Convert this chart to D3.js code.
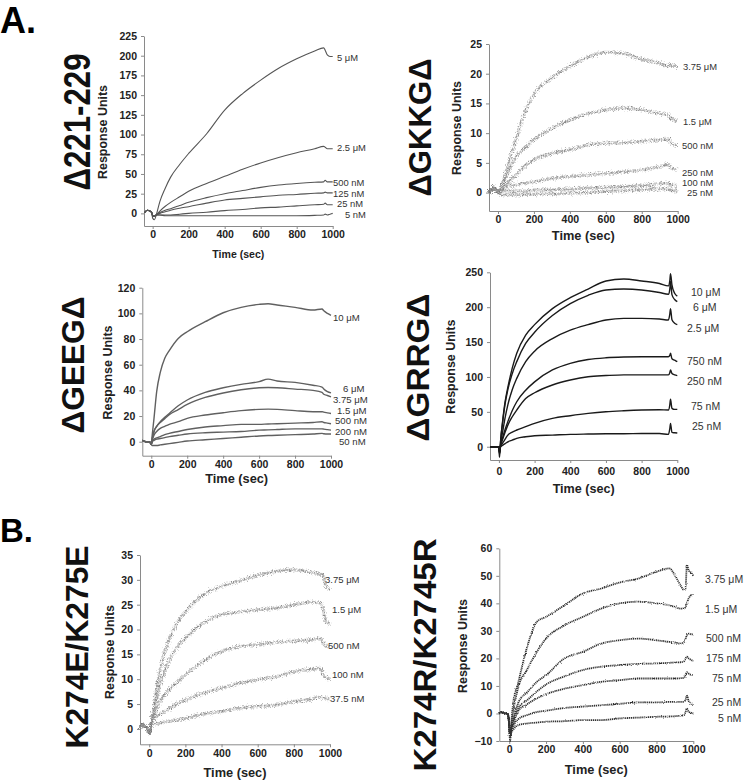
<!DOCTYPE html>
<html><head><meta charset="utf-8">
<script src="https://cdn.jsdelivr.net/npm/d3@7"></script>
<style>body{margin:0;background:#fff} svg{display:block} text{font-family:"Liberation Sans",Arial,Helvetica,sans-serif}</style>
</head><body><svg id="c" width="745" height="780"></svg>
<script>
// ---------- DATA ----------
const xTicks = [0, 200, 400, 600, 800, 1000];

// Panel 1: Δ221-229
const p1Title = "Δ221-229";
const p1YTicks = [0, 25, 50, 75, 100, 125, 150, 175, 200, 225];
const p1Labels = ["5 μM", "2.5 μM", "500 nM", "125 nM", "25 nM", "5 nM"];
const p1Times = [-45,-30,-15,-5,0,10,20,40,70,100,150,200,300,400,500,600,700,800,900,950,958,970,985,1000];
const p1Values = [
  [1,4,3,1,-6,-8,-2,15,32,46,62,76,101,131,152,169,184,196,206,210,207,201,199,199],
  [1,4,3,1,-4,-4,-2,3,9,14,21,28,38,47,56,64,71,77,82,85,84,82,82,82],
  [1,4,3,1,-3,-3,-2,1,4,6,10,14,20,25,29,33,36,38,39.5,40,42,40,40,40],
  [1,4,3,1,-3,-3,-2,0,2,4,6.5,8.5,13,17,19,21,23,24,25.5,26,27,26,26,26],
  [1,4,3,1,-3,-3,-2,-2,-2,-2,-1,0,1.5,3.5,5,7,8,9.5,11,11.5,13,11,11,11],
  [1,4,3,1,-3,-3,-2,-2,-3,-3,-3,-3,-3,-3,-3,-3,-3,-3,-2.5,-2,-1,-2,-1,0]
];

// Panel 2: ΔGKKGΔ
const p2Title = "ΔGKKGΔ";
const p2YTicks = [0, 5, 10, 15, 20, 25];
const p2Labels = ["3.75 μM", "1.5 μM", "500 nM", "250 nM", "100 nM", "25 nM"];
const p2Times = [-50,-40,-25,-10,0,20,50,100,150,200,300,400,500,600,700,800,900,950,960,980,1000];
const p2Values = [
  [0.5,0,1,0.5,0,1,4,9,13.5,16.5,19.3,21.2,22.8,23.6,23.4,22.4,21.8,21.2,21.5,21.3,21.2],
  [0.5,0,1,0.5,0,1,3,6,7.5,8.9,10.8,12.2,13.3,13.9,14.2,13.9,13.3,13,12.5,12.2,12],
  [0.5,0,1,0.5,0,0.5,1.5,3,4.5,5.5,6.6,7.2,8,8.3,8.4,8.6,8.9,9,8.5,8,8],
  [0.5,0,1,0.5,0,0.5,1,1.3,1.6,1.8,2.4,2.7,3,3.2,3.5,3.8,4.4,4.7,4.2,4,4],
  [0.5,0,1,0.5,0,0.3,0.3,0.3,0.3,0.4,0.5,0.6,0.8,0.9,1,1.2,1.5,1.6,1.3,1.2,1.2],
  [0.5,0,1,0.5,0,-0.3,-0.4,-0.4,-0.3,-0.3,-0.2,-0.1,0,0.2,0.3,0.5,0.6,0.6,0.4,0.3,0.3]
];

// Panel 3: ΔGEEGΔ
const p3Title = "ΔGEEGΔ";
const p3YTicks = [0, 20, 40, 60, 80, 100, 120];
const p3Labels = ["10 μM", "6 μM", "3.75 μM", "1.5 μM", "500 nM", "200 nM", "50 nM"];
const p3Times = [-50,-30,-10,0,5,15,30,50,75,100,150,200,300,400,500,600,650,700,800,900,950,960,980,1000];
const p3Values = [
  [1,0,0,-2,5,18,39,54,65,71,80.5,85.7,93.5,100.5,104.7,107,107.5,106.5,104.7,102.6,103.4,102,100,98.5],
  [1,0,0,-2,2,8,12,15.6,19,22,28,32.5,38.4,42,44.7,46.8,48.8,47.3,46.2,44,42.6,41,39,38],
  [1,0,0,-2,2,8,12,15,18,21,25,29,34.5,38,40.5,42,42.2,42,41,40,38.5,37,36,35],
  [1,0,0,-2,1,5,8,10.4,12,13.5,15.6,18.2,20.8,22.6,24.2,25.2,25.4,25.2,24.2,23.4,23.4,23,22.5,22],
  [1,0,0,-2,0,2,3,4,5.5,6.5,8,9.5,11.5,12.5,13.5,13.5,13.8,14,14.5,15,15.5,15,14.5,14],
  [1,0,0,-2,0,1,2,2.5,3.2,4,5,6,7,7.5,8,9,9.2,9.5,10,10,10,9.8,9.4,9],
  [1,0,0,-2,-3,-3,-3,-2.5,-2,-1.5,-0.5,0.5,1.5,2.5,3.5,4.5,4.8,5,5.5,6,6.5,6.2,6,6]
];

// Panel 4: ΔGRRGΔ
const p4Title = "ΔGRRGΔ";
const p4YTicks = [0, 50, 100, 150, 200, 250];
const p4Labels = ["10 μM", "6 μM", "2.5 μM", "750 nM", "250 nM", "75 nM", "25 nM"];
const p4Times = [-50,-30,-10,0,3,6,10,20,35,50,75,100,150,200,300,400,500,600,700,800,900,950,958,962,970,985,1000];
const p4Values = [
  [0,0,0,0,-15,-5,10,35,65,85,113,134,160,175,198,213.7,226,237.6,240.4,237.6,234,230.5,238,248,232,220,216],
  [0,0,0,0,-10,-5,10,33,62,82,105,122,148,164,188,205,217,224.7,226,224.7,221,218.5,226,237,218,211,208],
  [0,0,0,0,-10,-5,5,20,42,60,82,98,122,137,155,167,175,181.6,184,184,183,181.6,190,198,182,177,175],
  [0,0,0,0,-8,-4,3,12,25,36,52,64.5,81,93,110,119.5,125,127.5,128.6,129,129,129,131,134,126,124,122],
  [0,0,0,0,-8,-4,2,10,21,31,43,52.6,69,77.4,88.5,95.6,100.4,102,103,103,103,103,106,110,105,103,102],
  [0,0,0,0,-6,-3,1,5,11,16.7,21,24,28.7,33.5,40.6,44.5,47.8,50.2,51.6,52.6,53,52.6,60,68,55,53.5,53.5],
  [0,0,0,0,-6,-3,0,2,4.5,7,9.5,12,14.3,15.8,16.7,17.7,18.2,18.6,18.6,19,19,17.7,26,33.5,20.5,20,19.6]
];

// Panel 5: K274E/K275E
const p5Title = "K274E/K275E";
const p5YTicks = [0, 5, 10, 15, 20, 25, 30, 35];
const p5Labels = ["3.75 μM", "1.5 μM", "500 nM", "100 nM", "37.5 nM"];
const p5Times = [-50,-40,-25,-10,0,10,25,50,75,100,150,200,300,400,500,600,700,800,900,950,960,975,1000];
const p5Values = [
  [0,1,0.5,0,-1,1,4,10,14,17,21,23.6,27,28.7,29.8,30.9,31.7,32,31.5,31.1,31,29,28],
  [0,1,0.5,0,-1,1,3.5,7.5,10.5,12.9,16.2,18.3,21.3,23,23.5,24,24.3,25,25.5,25.3,24.5,22,21],
  [0,1,0.5,0,-1,1,2.5,4.8,6.3,7.5,9.2,10.9,13.6,15.6,16.6,17,17.4,17.7,17.9,18.3,17.5,16.8,16.5],
  [0,1,0.5,0,-1,1,2,2.8,3.3,3.8,5,5.8,7.2,8.2,9.2,9.9,10.5,11.5,12,12.2,11,10.5,10],
  [0,1,0.5,0,-1,0.5,1,1.1,1.3,1.5,1.8,2.1,3,3.5,4.2,4.5,4.8,5.5,6,6.5,6.3,6.2,6]
];

// Panel 6: K274R/K2745R
const p6Title = "K274R/K2745R";
const p6YTicks = [-10, 0, 10, 20, 30, 40, 50, 60];
const p6Labels = ["3.75 μM", "1.5 μM", "500 nM", "175 nM", "75 nM", "25 nM", "5 nM"];
const p6Times = [-55,-40,-25,-10,-3,5,10,20,50,100,150,200,300,400,500,600,700,800,870,900,930,950,958,965,975,990,1000];
const p6Values = [
  [0,0.5,0,0,-2,-10,-5,3,11.5,24.8,33.3,35.1,39.3,43.6,45.4,47.6,49,51.5,52.7,50.2,46.6,44.8,45.4,54,52,51,50],
  [0,0.5,0,0,-2,-8,-5,0,9.7,16.3,22.4,27.2,32,35.1,38.1,40,40.6,40,39.3,38.7,38.1,38.1,38.7,40,41.8,43,42.7],
  [0,0.5,0,0,-2,-8,-6,-3,4,7.9,11.5,13.9,20,22.4,25.4,26.6,27.2,26.6,26,25.8,25.4,26,27.2,28.4,29,28.7,28.7],
  [0,0.5,0,0,-2,-8,-6,-3,2,5,8,10.5,13.5,15.8,17,17.6,18,18.2,18.4,18.5,18.6,19,20,20.6,20,19.4,19],
  [0,0.5,0,0,-2,-8,-6,-4,1,3.5,5.5,7,9,10.3,11.5,12.1,12.7,12.7,12.7,12.7,12.8,13,14,15,14.5,14,14],
  [0,0.5,0,0,-2,-8,-7,-5,-2,-0.5,0.5,1,2,2.5,3,3.5,4,4,4.2,4.2,4.2,4.2,5,6.5,4.5,3.5,3],
  [0,0.5,0,0,-2,-8,-7,-6,-4.2,-3.6,-3.3,-3,-2.8,-2.4,-2.4,-1.8,-1.5,-1.2,-1.1,-1,-0.8,-0.6,0.6,1.8,0.6,0.2,0]
];

// ---------- LAYOUT ----------
const panels = [
  {title:p1Title, yTicks:p1YTicks, labels:p1Labels, times:p1Times, values:p1Values,
   xDom:[-48,1000], xR:[144,332.7], yDom:[-16,225], yR:[226,36],
   titlePos:[77,122,137,37], ruPos:[103,132], timeY:253.5, timeFs:11.5, timeLen:52, labFs:9.4,
   labelPos:[[337,57],[337,147],[333,182.5],[333,193],[337,203.5],[345,214]], style:"thin"},
  {title:p2Title, yTicks:p2YTicks, labels:p2Labels, times:p2Times, values:p2Values,
   xDom:[-50,1000], xR:[489,677.7], yDom:[-3.1,25], yR:[211,44],
   titlePos:[420,127.5,138,32], ruPos:[457,128], timeY:235, timeFs:13, timeLen:63, labFs:9.4,
   labelPos:[[683,66],[683,121],[682,145],[682,172],[682,182.5],[687,192.5]], style:"scatter"},
  {title:p3Title, yTicks:p3YTicks, labels:p3Labels, times:p3Times, values:p3Values,
   xDom:[-50,1000], xR:[142.3,331], yDom:[-10.9,120], yR:[455.7,287.7],
   titlePos:[73,365,137,32], ruPos:[108,372.5], timeY:478, timeFs:13, timeLen:63, labFs:9.6,
   labelPos:[[333,317],[343,388],[333,399],[337,410],[335,420],[335,431],[339,441.5]], style:"grey"},
  {title:p4Title, yTicks:p4YTicks, labels:p4Labels, times:p4Times, values:p4Values,
   xDom:[-50,1000], xR:[490,677.3], yDom:[-19,250], yR:[460,272.3],
   titlePos:[418,367.5,148,32], ruPos:[451,366.7], timeY:488, timeFs:13, timeLen:62, xPad:5, labFs:10.5,
   labelPos:[[691,292],[693,307],[687,328],[687,361],[687,381],[691,406],[692,426]], style:"black"},
  {title:p5Title, yTicks:p5YTicks, labels:p5Labels, times:p5Times, values:p5Values,
   xDom:[-51,1000], xR:[140,330], yDom:[-3.1,35], yR:[744.3,555],
   titlePos:[77,647,203,32], ruPos:[110,652], timeY:772, timeFs:13, timeLen:63, labFs:9.5,
   labelPos:[[325,579],[332,609],[328,645],[332,674],[330,698]], style:"scatter"},
  {title:p6Title, yTicks:p6YTicks, labels:p6Labels, times:p6Times, values:p6Values,
   xDom:[-54,1000], xR:[499.3,693.3], yDom:[-10,60], yR:[741,548.3],
   titlePos:[425,655,233,32], ruPos:[462.5,646], timeY:769, timeFs:13, timeLen:63, labFs:10.5,
   labelPos:[[705,579],[705,609],[706,638],[706,658],[712,678],[712,702],[718,718]], style:"dotted"}
];

const svg = d3.select("#c");
const defs = svg.append("defs");
const f = defs.append("filter").attr("id","jit").attr("x","-5%").attr("y","-10%").attr("width","110%").attr("height","120%");
f.append("feTurbulence").attr("type","fractalNoise").attr("baseFrequency",0.8).attr("numOctaves",1).attr("seed",4).attr("result","n");
f.append("feDisplacementMap").attr("in","SourceGraphic").attr("in2","n").attr("scale",7)
  .attr("xChannelSelector","R").attr("yChannelSelector","G");
const f2 = defs.append("filter").attr("id","jit2").attr("x","-5%").attr("y","-10%").attr("width","110%").attr("height","120%");
f2.append("feTurbulence").attr("type","fractalNoise").attr("baseFrequency",0.9).attr("numOctaves",1).attr("seed",7).attr("result","n");
f2.append("feDisplacementMap").attr("in","SourceGraphic").attr("in2","n").attr("scale",2.5)
  .attr("xChannelSelector","R").attr("yChannelSelector","G");

// Panel letters
svg.append("text").attr("x",0).attr("y",32.5).attr("font-size",36).attr("font-weight","bold").text("A.");
svg.append("text").attr("x",0).attr("y",542).attr("font-size",33).attr("font-weight","bold").text("B.");

panels.forEach(p => {
  const g = svg.append("g");
  const x = d3.scaleLinear().domain(p.xDom).range(p.xR);
  const y = d3.scaleLinear().domain(p.yDom).range(p.yR);

  // axes
  const xa = g.append("g").attr("transform",`translate(0,${p.yR[0]})`)
    .call(d3.axisBottom(x).tickValues(xTicks).tickFormat(d3.format("d")).tickSize(3).tickPadding(p.xPad||2).tickSizeOuter(0));
  const ya = g.append("g").attr("transform",`translate(${p.xR[0]},0)`)
    .call(d3.axisLeft(y).tickValues(p.yTicks).tickFormat(d3.format("d")).tickSize(3).tickPadding(4).tickSizeOuter(0));
  [xa,ya].forEach(a=>{
    a.select(".domain").attr("stroke","#8a8a8a").attr("stroke-width",1);
    a.selectAll(".tick line").attr("stroke","#8a8a8a");
    a.selectAll(".tick text").attr("font-size",10.5).attr("font-weight","bold").attr("fill","#222")
      .attr("font-family","'Liberation Sans',Arial,sans-serif");
  });

  // curves
  const line = d3.line().x((d,i)=>x(p.times[i])).y(d=>y(d)).curve(d3.curveMonotoneX);
  const cg = g.append("g");
  if (p.style === "scatter") cg.attr("filter","url(#jit)");
  if (p.style === "dotted") cg.attr("filter","url(#jit2)");
  p.values.forEach(vals => {
    const d = line(vals);
    if (p.style === "scatter") {
      cg.append("path").attr("d",d).attr("fill","none").attr("stroke","#909090")
        .attr("stroke-width",3.2).attr("stroke-dasharray","0.6 0.8");
      cg.append("path").attr("d",d).attr("fill","none").attr("stroke","#6a6a6a")
        .attr("stroke-width",1.3).attr("stroke-dasharray","0.6 1.8");
    } else if (p.style === "thin") {
      cg.append("path").attr("d",d).attr("fill","none").attr("stroke","#555").attr("stroke-width",1.1);
    } else if (p.style === "grey") {
      cg.append("path").attr("d",d).attr("fill","none").attr("stroke","#606060").attr("stroke-width",1.4);
    } else if (p.style === "black") {
      cg.append("path").attr("d",d).attr("fill","none").attr("stroke","#1a1a1a").attr("stroke-width",1.4);
    } else {
      cg.append("path").attr("d",d).attr("fill","none").attr("stroke","#333")
        .attr("stroke-width",1.8).attr("stroke-dasharray","1.2 0.7");
    }
  });

  // series labels
  p.labels.forEach((lab,i) => {
    g.append("text").attr("x",p.labelPos[i][0]).attr("y",p.labelPos[i][1])
      .attr("dominant-baseline","central").attr("font-size",p.labFs).attr("fill","#333").text(lab);
  });

  // axis titles
  g.append("text").attr("x",(p.xR[0]+p.xR[1])/2).attr("y",p.timeY)
    .attr("text-anchor","middle").attr("dominant-baseline","central")
    .attr("font-size",p.timeFs).attr("font-weight","bold").attr("fill","#222")
    .attr("textLength",p.timeLen).attr("lengthAdjust","spacingAndGlyphs").text("Time (sec)");
  g.append("text").attr("transform",`translate(${p.ruPos[0]+4},${p.ruPos[1]}) rotate(-90)`)
    .attr("text-anchor","middle").attr("font-size",12).attr("font-weight","bold").attr("fill","#222")
    .attr("textLength",94).attr("lengthAdjust","spacingAndGlyphs").text("Response Units");

  // big rotated title
  const [tx,ty,tl,fs] = p.titlePos;
  g.append("text").attr("transform",`translate(${tx+fs*0.358},${ty}) rotate(-90)`)
    .attr("text-anchor","middle").attr("font-size",fs).attr("font-weight","bold").attr("fill","#111")
    .attr("textLength",tl).attr("lengthAdjust","spacingAndGlyphs").text(p.title);
});
</script></body></html>
